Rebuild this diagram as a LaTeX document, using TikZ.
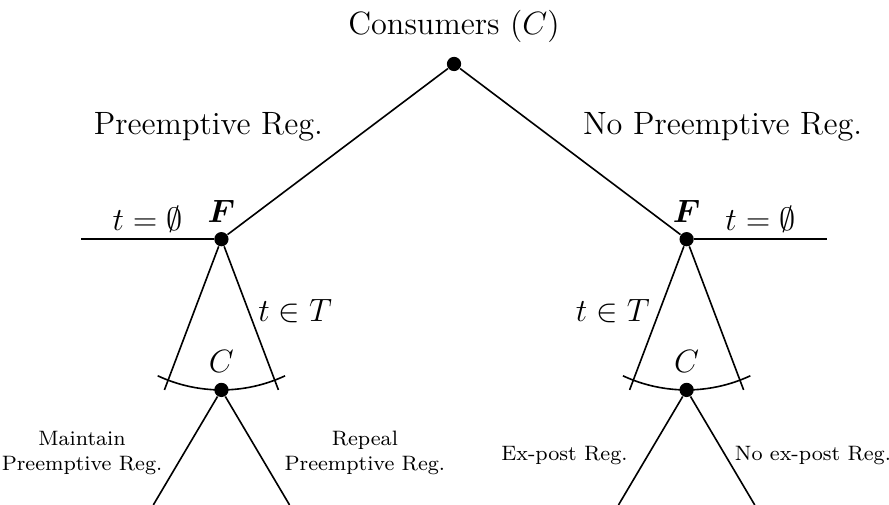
\documentclass[tikz,border=0pt]{standalone}
\usepackage{amsmath}
\usepackage{amssymb}
\usepackage{tikz}
\usetikzlibrary{positioning,calc}

\begin{document}
\begin{tikzpicture}[
  dot/.style={circle,fill=black,inner sep=0pt,minimum size=5.3pt},
  lbl/.style={font=\large},
  act/.style={font=\fontsize{7.75}{9.3}\selectfont,align=center},
  br/.style={semithick}
]
\useasboundingbox (-5.934,-5.764) rectangle (5.685,0.836);
\node[dot] (root) at (0,0) {};
\node[dot] (fl) at (-3.04,-2.29) {};
\node[dot] (fr) at (3.04,-2.29) {};
\node[dot] (cl) at (-3.04,-4.26) {};
\node[dot] (cr) at (3.04,-4.26) {};
\node[lbl,above=.5mm of root] (cons) {Consumers ($C$)};
\node[lbl] (pre) at (-3.21,-0.82) {Preemptive Reg.};
\node[lbl] (nopre) at (3.51,-0.82) {No Preemptive Reg.};
\node[lbl,above=0pt of fl] (flab) {$\boldsymbol{F}$};
\node[lbl,above=0pt of fr] (frab) {$\boldsymbol{F}$};
\node[lbl,above=0pt of cl] (clab) {$C$};
\node[lbl,above=0pt of cr] (crab) {$C$};

\coordinate (wl) at ($(fl)+(-1.83,0)$);
\coordinate (wr) at ($(fr)+(1.83,0)$);
\coordinate (fla) at ($(fl)+(-0.745,-1.97)$);
\coordinate (flb) at ($(fl)+(0.745,-1.97)$);
\coordinate (fra) at ($(fr)+(-0.745,-1.97)$);
\coordinate (frb) at ($(fr)+(0.745,-1.97)$);
\coordinate (cla) at ($(cl)+(-0.89,-1.503)$);
\coordinate (clb) at ($(cl)+(0.89,-1.503)$);
\coordinate (cra) at ($(cr)+(-0.89,-1.503)$);
\coordinate (crb) at ($(cr)+(0.89,-1.503)$);

\draw[br] (root) -- (fl);
\draw[br] (root) -- (fr);
\draw[br] (fl) -- node[lbl,midway,above=-1pt]{$t=\emptyset$} (wl);
\draw[br] (fr) -- node[lbl,midway,above=-1pt]{$t=\emptyset$} (wr);
\draw[br] (fl) -- (fla);
\draw[br] (fl) -- node[lbl,pos=.45,right]{$t\in T$} (flb);
\draw[br] (fr) -- node[lbl,pos=.45,left]{$t\in T$} (fra);
\draw[br] (fr) -- (frb);
\draw[br] ($(fl)+(245:1.97)$) arc[start angle=245,end angle=295,radius=1.97];
\draw[br] ($(fr)+(245:1.97)$) arc[start angle=245,end angle=295,radius=1.97];
\draw[br] (cl) -- node[act,pos=.52,left=4.5pt]{Maintain\\Preemptive Reg.} (cla);
\draw[br] (cl) -- node[act,pos=.52,right=6pt]{Repeal\\Preemptive Reg.} (clb);
\draw[br] (cr) -- node[act,pos=.54,left=4pt]{Ex-post Reg.} (cra);
\draw[br] (cr) -- node[act,pos=.54,right=0pt]{No ex-post Reg.} (crb);
\end{tikzpicture}
\end{document}
